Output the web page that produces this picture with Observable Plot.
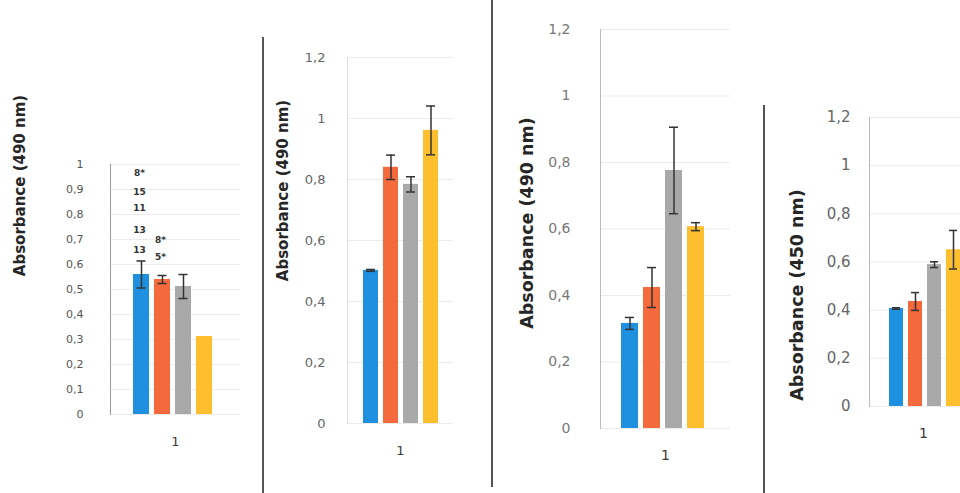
<!DOCTYPE html>
<html>
<head>
<meta charset="utf-8">
<script src="https://cdn.jsdelivr.net/npm/d3@7"></script>
<script src="https://cdn.jsdelivr.net/npm/@observablehq/plot@0.6"></script>
<style>
  html, body { margin: 0; padding: 0; background: #fff; }
  #wrap { position: relative; width: 960px; height: 493px; overflow: hidden; background: #fff; }
  .panel { position: absolute; top: 0; }
  .sep { position: absolute; width: 2px; background: #555; }
</style>
</head>
<body>
<div id="wrap"></div>
<script>
// ---- data ----
const series = ["Series 1", "Series 2", "Series 3", "Series 4"];
const category = ["1"];

const p1Values = [0.56, 0.54, 0.512, 0.312];
const p1Errors = [0.054, 0.016, 0.048, 0];
const p2Values = [0.502, 0.84, 0.784, 0.961];
const p2Errors = [0.003, 0.04, 0.025, 0.08];
const p3Values = [0.316, 0.424, 0.776, 0.607];
const p3Errors = [0.018, 0.06, 0.13, 0.012];
const p4Values = [0.407, 0.436, 0.589, 0.651];
const p4Errors = [0.003, 0.037, 0.012, 0.08];

const p1Ticks = [0, 0.1, 0.2, 0.3, 0.4, 0.5, 0.6, 0.7, 0.8, 0.9, 1];
const pTicks = [0, 0.2, 0.4, 0.6, 0.8, 1, 1.2];

const titles = ["Absorbance (490 nm)", "Absorbance (490 nm)", "Absorbance (490 nm)", "Absorbance (450 nm)"];

// stray annotations printed inside panel 1
const p1NoteText = ["8*", "15", "11", "13", "13", "8*", "5*"];
const p1NoteSeries = ["Series 1", "Series 1", "Series 1", "Series 1", "Series 1", "Series 2", "Series 2"];
const p1NoteY = [0.964, 0.888, 0.824, 0.736, 0.656, 0.696, 0.628];

// ---- styles ----
const colors = ["#1f8fe0", "#f46a3c", "#a9a9a9", "#fdbf2d"];
const fmt = d => String(d).replace(".", ",");

function rows(values, errors) {
  return series.map((s, i) => ({cat: category[0], series: s, v: values[i], e: errors[i]}));
}

function panel(cfg) {
  const data = rows(cfg.values, cfg.errors);
  const err = data.filter(d => d.e > 0);
  const marks = [
    Plot.gridY(cfg.ticks, {stroke: "#ebebeb", strokeOpacity: 1}),
    Plot.frame({anchor: "left", stroke: cfg.axisColor}),
    Plot.axisY(cfg.ticks, {tickFormat: fmt, tickSize: 0, tickPadding: cfg.tickPadding, label: null,
      fontSize: cfg.tickFont, color: cfg.tickColor, fontFamily: "DejaVu Sans"}),
    Plot.axisFx({anchor: "bottom", tickSize: 0, tickPadding: cfg.catPadding, label: null,
      fontSize: cfg.catFont, color: "#3a3a3a", fontFamily: "DejaVu Sans"}),
    Plot.barY(data, {fx: "cat", x: "series", y: "v", fill: "series"}),
    Plot.ruleX(err, {fx: "cat", x: "series", y1: d => d.v - d.e, y2: d => d.v + d.e, stroke: "#333", strokeWidth: 1.5}),
    Plot.tickY(err, {fx: "cat", x: "series", y: d => d.v - d.e, stroke: "#333", strokeWidth: 1.5, insetLeft: cfg.capInset, insetRight: cfg.capInset}),
    Plot.tickY(err, {fx: "cat", x: "series", y: d => d.v + d.e, stroke: "#333", strokeWidth: 1.5, insetLeft: cfg.capInset, insetRight: cfg.capInset}),
    Plot.text([cfg.title], {frameAnchor: "left", rotate: -90, dx: cfg.tdx, dy: cfg.tdy, text: d => d,
      fontSize: cfg.titleFont, fontWeight: "bold", fill: "#262626", fontFamily: "DejaVu Sans",
      textAnchor: "middle", lineAnchor: "middle"})
  ];
  if (cfg.notes) marks.push(cfg.notes);
  const chart = Plot.plot({
    width: cfg.width, height: 493,
    marginLeft: cfg.ml, marginRight: cfg.mr, marginTop: cfg.mt, marginBottom: cfg.mb,
    style: {background: "transparent", fontFamily: "DejaVu Sans"},
    fx: {domain: category, padding: 0},
    x: {domain: series, axis: null, paddingInner: cfg.pi, paddingOuter: cfg.po, align: cfg.align},
    y: {domain: [0, cfg.yMax], axis: null},
    color: {domain: series, range: colors},
    marks
  });
  chart.classList.add("panel");
  chart.style.left = cfg.left + "px";
  return chart;
}

const wrap = document.getElementById("wrap");

const notes = Plot.text(p1NoteText.map((t, i) => ({cat: category[0], series: p1NoteSeries[i], y: p1NoteY[i], t})),
  {fx: "cat", x: "series", y: "y", text: "t", fontSize: 9, fontWeight: "bold", fill: "#333", dx: -2, fontFamily: "DejaVu Sans"});

wrap.appendChild(panel({left: 0, width: 250, ml: 110, mr: 10, mt: 164, mb: 79, yMax: 1, ticks: p1Ticks,
  values: p1Values, errors: p1Errors, pi: 0.22, po: 1.07, align: 0.45, capInset: 3.5,
  tickPadding: 27, tickFont: 11, tickColor: "#555", catPadding: 22, catFont: 13, axisColor: "#999",
  title: titles[0], titleFont: 15, tdx: -90, tdy: -104, notes}));

wrap.appendChild(panel({left: 263, width: 229, ml: 84, mr: 39, mt: 57, mb: 70, yMax: 1.2, ticks: pTicks,
  values: p2Values, errors: p2Errors, pi: 0.25, po: 0.775, align: 0.5, capInset: 3,
  tickPadding: 22, tickFont: 13, tickColor: "#666", catPadding: 22, catFont: 13, axisColor: "#ddd",
  title: titles[1], titleFont: 15, tdx: -64, tdy: -50}));

wrap.appendChild(panel({left: 494, width: 269, ml: 106, mr: 33, mt: 29, mb: 65, yMax: 1.2, ticks: pTicks,
  values: p3Values, errors: p3Errors, pi: 0.217, po: 0.935, align: 0.44, capInset: 4,
  tickPadding: 30, tickFont: 14, tickColor: "#777", catPadding: 22, catFont: 14, axisColor: "#bbb",
  title: titles[2], titleFont: 17.5, tdx: -73, tdy: -6}));

wrap.appendChild(panel({left: 764, width: 220, ml: 105, mr: 7, mt: 117, mb: 87, yMax: 1.2, ticks: pTicks,
  values: p4Values, errors: p4Errors, pi: 0.24, po: 0.86, align: 0.56, capInset: 3,
  tickPadding: 19, tickFont: 15, tickColor: "#666", catPadding: 22, catFont: 14, axisColor: "#bbb",
  title: titles[3], titleFont: 17.5, tdx: -72, tdy: 33}));

// separators between the panels
[[262, 37, 456], [491, 0, 487], [763, 105, 388]].forEach(([x, t, h]) => {
  const d = document.createElement("div");
  d.className = "sep";
  d.style.left = x + "px"; d.style.top = t + "px"; d.style.height = h + "px";
  wrap.appendChild(d);
});
</script>
</body>
</html>
